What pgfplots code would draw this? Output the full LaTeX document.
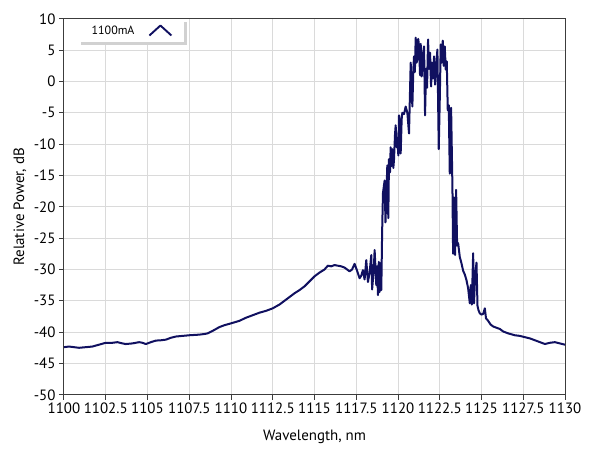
\documentclass[border=0pt]{standalone}
\usepackage{fontspec}
\setmainfont{PT Sans}
\usepackage{pgfplots}
\pgfplotsset{compat=1.18}
\usetikzlibrary{shadows}
\definecolor{curve}{RGB}{16,16,96}
\definecolor{gridc}{RGB}{218,218,218}
\definecolor{axc}{RGB}{60,60,60}
\begin{document}
\begin{tikzpicture}
\useasboundingbox (-64bp,-61.3bp) rectangle (525bp,394.8bp);
\begin{axis}[
 scale only axis, width=501bp, height=376bp,
 xmin=1100, xmax=1130, ymin=-50, ymax=10,
 xtick={1100,1102.5,1105,1107.5,1110,1112.5,1115,1117.5,1120,1122.5,1125,1127.5,1130},
 ytick={-50,-45,-40,-35,-30,-25,-20,-15,-10,-5,0,5,10},
 /pgf/number format/1000 sep={},
 /pgf/number format/assume math mode=true,
 tick pos=left, tick align=outside, major tick length=5bp,
 tick style={axc, line width=1bp},
 axis line style={axc, line width=1bp},
 grid=major, grid style={gridc, line width=1bp},
 ticklabel style={font=\fontsize{15}{17}\selectfont},
 label style={font=\fontsize{15}{17}\selectfont},
 xlabel={Wavelength, nm}, ylabel={Relative Power, dB},
 xlabel style={at={(axis description cs:0.5,-0.112)}, anchor=center},
 ylabel style={at={(axis description cs:-0.0878,0.5)}, anchor=center},
 legend plot pos=right,
 legend image code/.code={%
   \pgfsetlinewidth{1.9bp}\pgfsetstrokecolor{curve}\pgfsetroundjoin
   \pgfpathmoveto{\pgfpoint{0bp}{-5bp}}%
   \pgfpathlineto{\pgfpoint{11bp}{5bp}}%
   \pgfpathlineto{\pgfpoint{22bp}{-5bp}}%
   \pgfusepath{stroke}},
 legend style={at={(axis description cs:0.028,1)}, anchor=north west,
   draw=none, fill=white, font=\fontsize{12}{14}\selectfont,
   inner xsep=11.5bp, inner ysep=4.5bp,
   /tikz/every odd column/.append style={column sep=12bp},
   drop shadow={shadow xshift=3bp, shadow yshift=-3bp, fill=black!18, opacity=1}},
]
\addplot[curve, line width=2bp, line join=round] coordinates {
(1100,-42.4) (1100.3,-42.3) (1100.6,-42.4) (1100.9,-42.5) (1101.3,-42.4) (1101.7,-42.3)
(1102.1,-42.0) (1102.5,-41.7) (1102.9,-41.7) (1103.2,-41.6) (1103.5,-41.8) (1103.7,-41.9)
(1104.1,-41.8) (1104.5,-41.6) (1104.7,-41.7) (1104.9,-41.9) (1105.2,-41.6) (1105.5,-41.35)
(1105.8,-41.3) (1106.1,-41.2) (1106.4,-40.9) (1106.7,-40.7) (1107.1,-40.6) (1107.5,-40.5)
(1107.8,-40.45) (1108.1,-40.4) (1108.4,-40.3) (1108.6,-40.2) (1108.9,-39.8) (1109.3,-39.2)
(1109.6,-38.9) (1110,-38.6) (1110.5,-38.2) (1110.9,-37.7) (1111.3,-37.3) (1111.7,-36.9)
(1112.1,-36.6) (1112.5,-36.2) (1112.9,-35.6) (1113.2,-35.0) (1113.5,-34.4) (1113.8,-33.8)
(1114.1,-33.3) (1114.4,-32.7) (1114.7,-31.9) (1115.0,-31.1) (1115.3,-30.5) (1115.6,-30.0)
(1115.8,-29.4) (1116.0,-29.5) (1116.2,-29.3) (1116.4,-29.4) (1116.6,-29.5) (1116.8,-29.7)
(1117.1,-30.3) (1117.25,-30.0) (1117.4,-29.1) (1117.55,-30.2) (1117.7,-31.4) (1117.8,-31.0)
(1117.9,-30.1) (1118.0,-31.6) (1118.1,-28.5) (1118.2,-32.0) (1118.3,-30.5) (1118.4,-27.7)
(1118.45,-33.2) (1118.55,-30.0) (1118.6,-26.9) (1118.7,-32.5) (1118.75,-29.5) (1118.8,-34.1)
(1118.85,-28.8) (1118.9,-33.6) (1118.95,-29.0) (1119.0,-33.3) (1119.05,-24.0) (1119.1,-17.8)
(1119.2,-15.8) (1119.25,-22.5) (1119.36,-13.4) (1119.42,-21.8) (1119.46,-12.4) (1119.52,-14.5)
(1119.56,-10.5) (1119.62,-13.5) (1119.66,-10.8) (1119.72,-13.8) (1119.76,-12.5) (1119.82,-8.5)
(1119.86,-7.0) (1119.92,-10.5) (1119.96,-9.0) (1120.02,-11.8) (1120.06,-5.4) (1120.12,-6.5)
(1120.16,-11.5) (1120.22,-6.0) (1120.26,-5.0) (1120.36,-5.2) (1120.46,-4.0) (1120.56,-5.0)
(1120.66,-8.3) (1120.76,3.0) (1120.82,-1.5) (1120.86,-4.0) (1120.92,2.0) (1120.96,4.0)
(1121.01,1.5) (1121.06,7.0) (1121.11,3.0) (1121.16,3.5) (1121.21,6.8) (1121.26,5.7)
(1121.32,1.0) (1121.36,6.0) (1121.42,0.8) (1121.5,4.5) (1121.56,5.6) (1121.62,-5.4)
(1121.68,2.0) (1121.74,-1.0) (1121.8,6.7) (1121.86,2.0) (1121.92,4.6) (1121.98,-0.8)
(1122.04,3.0) (1122.1,0.5) (1122.16,4.0) (1122.22,-0.5) (1122.3,3.0) (1122.36,5.1)
(1122.44,-10.8) (1122.5,-3.0) (1122.56,5.9) (1122.62,3.0) (1122.68,6.5) (1122.74,2.5)
(1122.8,5.6) (1122.86,1.9) (1122.92,3.2) (1122.98,-4.6) (1123.04,-3.8) (1123.1,-14.7)
(1123.18,-4.2) (1123.26,-17.0) (1123.3,-27.5) (1123.36,-18.5) (1123.42,-27.7) (1123.48,-17.3)
(1123.54,-26.2) (1123.6,-25.8) (1123.7,-28.0) (1123.8,-29.0) (1123.9,-30.2) (1124.0,-30.8)
(1124.1,-31.7) (1124.2,-33.0) (1124.3,-35.4) (1124.36,-32.5) (1124.42,-35.6) (1124.5,-27.4)
(1124.55,-35.4) (1124.62,-31.0) (1124.7,-28.9) (1124.76,-35.8) (1124.82,-36.5) (1124.9,-37.0)
(1125.0,-37.2) (1125.1,-37.1) (1125.2,-36.2) (1125.27,-37.8) (1125.4,-38.2) (1125.55,-38.8)
(1125.7,-39.1) (1125.9,-39.3) (1126.1,-39.5) (1126.3,-39.9) (1126.6,-40.2) (1127.0,-40.5)
(1127.3,-40.6) (1127.6,-40.8) (1127.9,-41.0) (1128.2,-41.3) (1128.5,-41.6) (1128.8,-41.9)
(1129.1,-41.7) (1129.4,-41.6) (1129.7,-41.8) (1130,-42.0)
};
\addlegendentry{1100mA}
\end{axis}
\end{tikzpicture}
\end{document}
